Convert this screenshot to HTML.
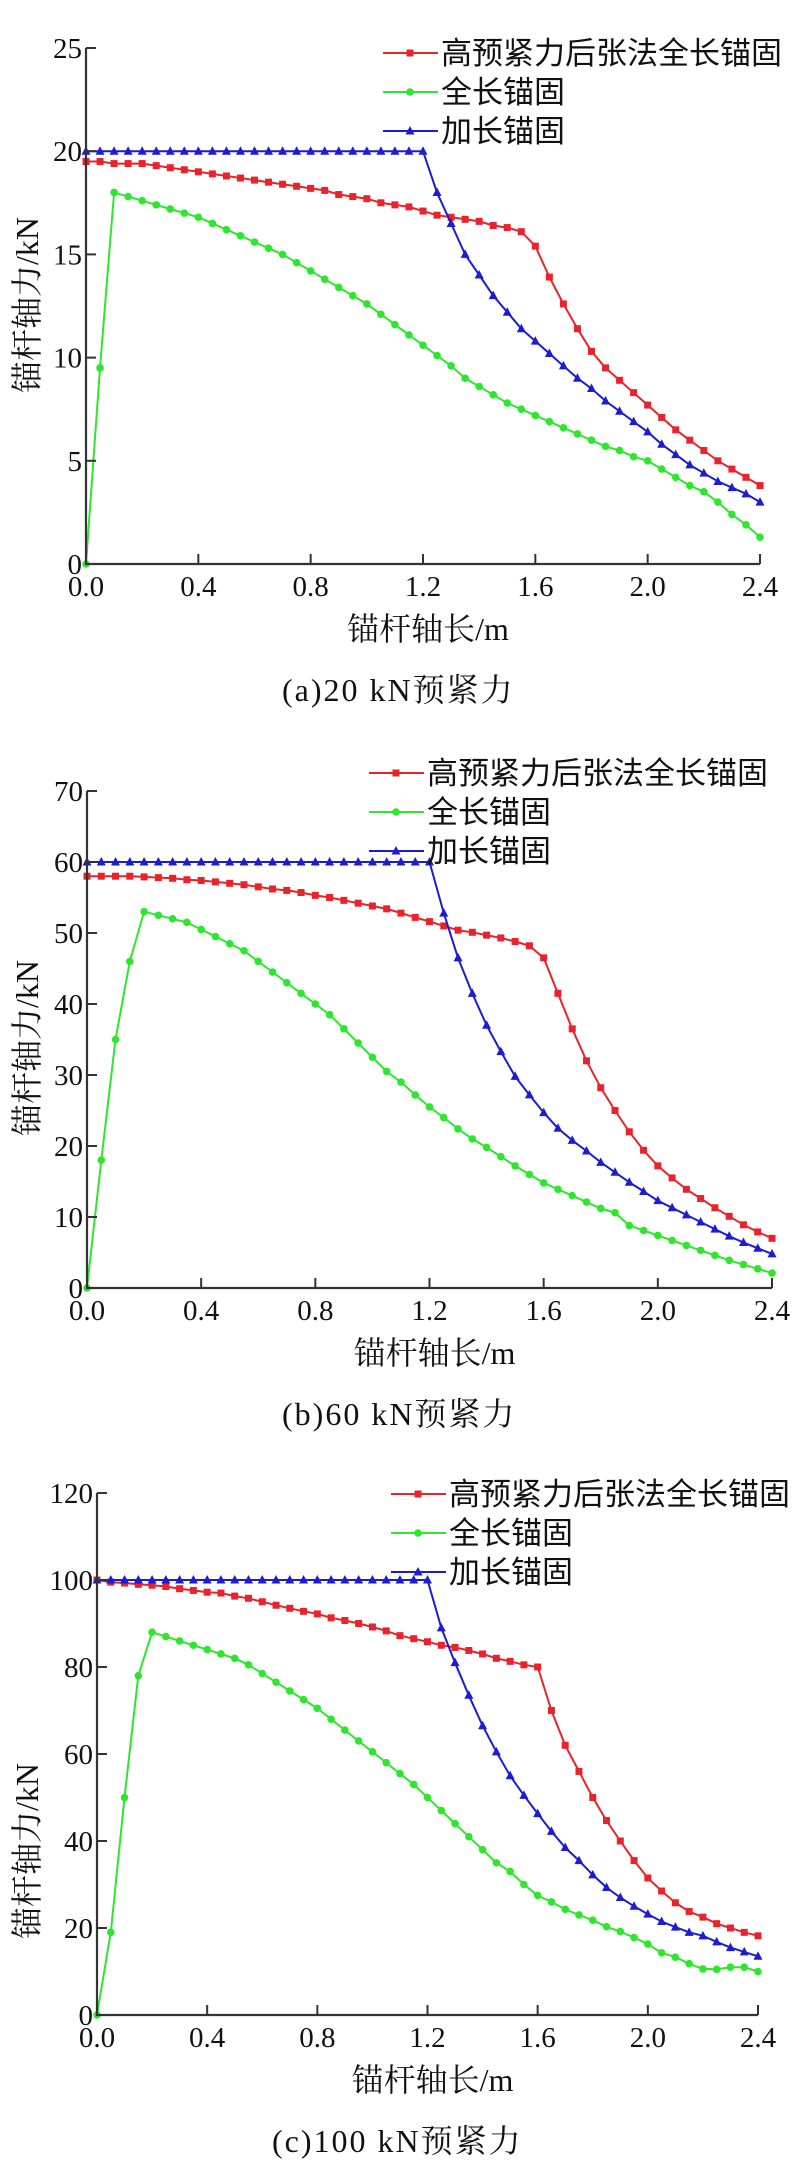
<!DOCTYPE html>
<html><head><meta charset="utf-8">
<style>
html,body{margin:0;padding:0;background:#fff;}
svg{display:block;}
.tk{font-family:"Liberation Serif",serif;font-size:29px;fill:#111;}
.cj{font-family:"Liberation Serif","Noto Serif CJK SC","Noto Sans CJK SC",serif;font-size:32px;fill:#111;}
.cap{font-family:"Liberation Serif","Noto Serif CJK SC","Noto Sans CJK SC",serif;font-size:32px;fill:#111;letter-spacing:2px;}
.lg{font-family:"Liberation Sans","Noto Sans CJK SC",sans-serif;font-size:31px;fill:#111;}
</style></head>
<body>
<svg id="fig" width="796" height="2173" viewBox="0 0 796 2173" xmlns="http://www.w3.org/2000/svg"></svg>
<script>
const xValues = [0,0.05,0.1,0.15,0.2,0.25,0.3,0.35,0.4,0.45,0.5,0.55,0.6,0.65,0.7,0.75,0.8,0.85,0.9,0.95,1.0,1.05,1.1,1.15,1.2,1.25,1.3,1.35,1.4,1.45,1.5,1.55,1.6,1.65,1.7,1.75,1.8,1.85,1.9,1.95,2.0,2.05,2.1,2.15,2.2,2.25,2.3,2.35,2.4];
const xTicks = [0,0.4,0.8,1.2,1.6,2.0,2.4];
const xTickLabels = ["0.0","0.4","0.8","1.2","1.6","2.0","2.4"];
const legendLabels = ["高预紧力后张法全长锚固","全长锚固","加长锚固"];

const aRed = [19.5,19.5,19.4,19.4,19.4,19.3,19.2,19.1,19.0,18.9,18.8,18.7,18.6,18.5,18.4,18.3,18.2,18.1,17.9,17.8,17.7,17.5,17.4,17.3,17.1,16.9,16.8,16.7,16.6,16.4,16.3,16.1,15.4,13.9,12.6,11.4,10.3,9.5,8.9,8.3,7.7,7.1,6.5,6.0,5.5,5.0,4.6,4.2,3.8];
const aGreen = [0,9.5,18.0,17.8,17.6,17.4,17.2,17.0,16.8,16.5,16.2,15.9,15.6,15.3,15.0,14.6,14.2,13.8,13.4,13.0,12.6,12.1,11.6,11.1,10.6,10.1,9.6,9.0,8.6,8.2,7.8,7.5,7.2,6.9,6.6,6.3,6.0,5.7,5.5,5.2,5.0,4.6,4.2,3.8,3.5,3.0,2.4,1.9,1.3];
const aBlue = [20,20,20,20,20,20,20,20,20,20,20,20,20,20,20,20,20,20,20,20,20,20,20,20,20,18.0,16.5,15.0,14.0,13.0,12.2,11.4,10.8,10.2,9.6,9.0,8.5,7.9,7.4,6.9,6.4,5.8,5.3,4.8,4.4,4.0,3.7,3.4,3.0];
const aYTicks = [0,5,10,15,20,25];

const bRed = [58,58,58,58,57.9,57.8,57.7,57.5,57.4,57.2,57.0,56.8,56.5,56.2,56.0,55.7,55.3,55.0,54.6,54.2,53.8,53.4,52.8,52.2,51.6,51.0,50.4,50.1,49.7,49.3,48.8,48.2,46.5,41.5,36.5,32.0,28.2,25.0,22.0,19.4,17.2,15.5,13.9,12.6,11.3,10.1,8.9,7.9,7.0];
const bGreen = [0,18,35,46,53,52.5,52,51.5,50.5,49.5,48.5,47.5,46,44.5,43,41.5,40,38.5,36.5,34.5,32.5,30.5,29,27.2,25.5,24,22.4,21,19.8,18.5,17.2,16,14.8,13.9,13,12.1,11.2,10.6,8.8,8.1,7.4,6.7,6,5.3,4.6,3.9,3.3,2.7,2.1];
const bBlue = [60,60,60,60,60,60,60,60,60,60,60,60,60,60,60,60,60,60,60,60,60,60,60,60,60,52.8,46.5,41.5,37.0,33.3,29.8,27.2,24.7,22.5,20.8,19.3,17.7,16.3,14.9,13.6,12.3,11.3,10.3,9.3,8.3,7.3,6.4,5.6,4.8];
const bYTicks = [0,10,20,30,40,50,60,70];

const cRed = [100,99.5,99.3,99,98.8,98.5,98,97.6,97.2,97,96.3,95.8,95,94.2,93.5,92.8,92.2,91.3,90.7,90,89.2,88.3,87.2,86.5,85.8,85,84.5,83.8,83,82,81.3,80.5,80,70,62,56,50,44.7,40,35.5,31.5,28.5,25.8,23.8,22.5,21,20,19,18.2];
const cGreen = [0,19,50,78,88,87,86,85,84,83,82,80.5,78.5,76.5,74.5,72.5,70.5,68,65.5,63,60.5,58,55.5,53,50,47,44,41,38,35,33,30,27.5,26,24.3,23,21.8,20.3,19.2,17.8,16.3,14.3,13.3,11.8,10.6,10.5,11,11,10];
const cBlue = [100,100,100,100,100,100,100,100,100,100,100,100,100,100,100,100,100,100,100,100,100,100,100,100,100,89,81,73.5,66.5,60.5,55,50.5,46.3,42.2,38.5,35.5,32.2,29.3,27,25,23.2,21.5,20.2,19,18.2,16.8,15.5,14.5,13.5];
const cYTicks = [0,20,40,60,80,100,120];

const NS = "http://www.w3.org/2000/svg";
const svg = document.getElementById("fig");
const COLORS = ["#e8232b","#2ee62e","#1c1cd2"];
const MARK = ["square","circle","triangle"];

function mk(tag, attrs, parent){
  const e = document.createElementNS(NS, tag);
  for (const k in attrs) e.setAttribute(k, attrs[k]);
  (parent||svg).appendChild(e);
  return e;
}
function marker(g, kind, x, y, color){
  let m;
  if (kind==="square") m = mk("rect",{x:x-3.5,y:y-3.5,width:7,height:7,fill:color},g);
  else if (kind==="circle") m = mk("circle",{cx:x,cy:y,r:3.8,fill:color},g);
  else m = mk("polygon",{points:`${x},${y-5} ${x-4.5},${y+3.5} ${x+4.5},${y+3.5}`,fill:color},g);
  
  
}

function chart(cfg){
  const {id,x0,x1,yTop,y0,yMax,yTicks,series,legX,legY,yLabelX,yLabelY,caption,captionX} = cfg;
  const g = mk("g",{});
  
  
  const sx = v => x0 + (x1-x0)*v/2.4;
  const sy = v => y0 - (y0-yTop)*v/yMax;
  series.forEach((vals, si) => {
    const sg = mk("g",{},g);
    
    
    const pts = vals.map((v,i)=> sx(xValues[i]).toFixed(1)+","+sy(v).toFixed(1)).join(" ");
    const pl = mk("polyline",{points:pts,fill:"none",stroke:COLORS[si],"stroke-width":2},sg);
    
    
    vals.forEach((v,i)=> marker(sg, MARK[si], sx(xValues[i]), sy(v), COLORS[si]));
  });
  const ax = mk("path",{d:`M${x0},${yTop} L${x0},${y0} L${x1},${y0}`,fill:"none",stroke:"#333","stroke-width":2.2},g);
  
  
  yTicks.forEach(t => {
    const y = sy(t);
    const tk = mk("line",{x1:x0,y1:y,x2:x0+10,y2:y,stroke:"#333","stroke-width":2},g);
    
    
    const tl = mk("text",{x:x0-4,y:y+10,"text-anchor":"end",class:"tk"},g);
    tl.textContent = t;
    
    
  });
  xTicks.forEach((t,i) => {
    const x = sx(t);
    const tk = mk("line",{x1:x,y1:y0,x2:x,y2:y0-10,stroke:"#333","stroke-width":2},g);
    
    
    const tl = mk("text",{x:x,y:y0+32,"text-anchor":"middle",class:"tk"},g);
    tl.textContent = xTickLabels[i];
    
    
  });
  const xt = mk("text",{x:(x0+x1)/2+5,y:y0+76,"text-anchor":"middle",class:"cj"},g);
  xt.textContent = "锚杆轴长/m";
  
  
  const yt = mk("text",{x:0,y:0,"text-anchor":"middle",class:"cj",transform:`translate(${yLabelX},${yLabelY}) rotate(-90)`},g);
  yt.textContent = "锚杆轴力/kN";
  
  
  legendLabels.forEach((lab,i) => {
    const lg = mk("g",{},g);
    
    
    const y = legY + i*39;
    mk("line",{x1:legX,y1:y,x2:legX+55,y2:y,stroke:COLORS[i],"stroke-width":2},lg);
    marker(lg, MARK[i], legX+27, y, COLORS[i]);
    const t = mk("text",{x:legX+58,y:y+11,class:"lg"},lg);
    t.textContent = lab;
  });
  const cap = mk("text",{x:captionX,y:y0+137,class:"cap"},g);
  cap.textContent = caption;
  
  
}

chart({id:"chart-20kN",x0:86,x1:760,yTop:48,y0:564,yMax:25,yTicks:aYTicks,series:[aRed,aGreen,aBlue],legX:383,legY:53,yLabelX:38,yLabelY:305,caption:"(a)20 kN预紧力",captionX:282});
chart({id:"chart-60kN",x0:87,x1:772,yTop:791,y0:1288,yMax:70,yTicks:bYTicks,series:[bRed,bGreen,bBlue],legX:369,legY:773,yLabelX:38,yLabelY:1048,caption:"(b)60 kN预紧力",captionX:282});
chart({id:"chart-100kN",x0:97,x1:758,yTop:1493,y0:2015,yMax:120,yTicks:cYTicks,series:[cRed,cGreen,cBlue],legX:391,legY:1494,yLabelX:38,yLabelY:1851,caption:"(c)100 kN预紧力",captionX:272});
</script>
</body></html>
